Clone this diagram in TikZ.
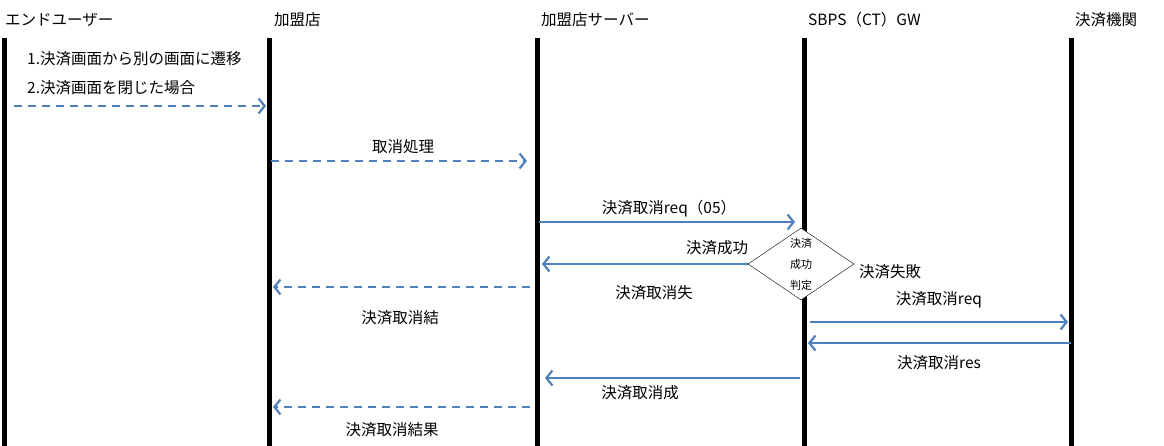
\documentclass[tikz,border=0pt]{standalone}
\usepackage{fontspec}
\setmainfont{Noto Sans CJK JP}
\usetikzlibrary{arrows.meta,shapes.geometric}
\definecolor{msgblue}{RGB}{79,129,189}

\begin{document}
\begin{tikzpicture}[x=1pt,y=-1pt,font=\fontsize{15.5}{18}\selectfont]
            \tikzstyle{lifeline}=[line width=5pt, draw=black]
            \tikzstyle{head}=[anchor=west, inner sep=0pt]
            \tikzstyle{note}=[anchor=west, inner sep=0pt]
            \tikzstyle{label}=[inner sep=0pt]
            \tikzstyle{call}=[line width=2.2pt, draw=msgblue, -{Straight Barb[length=6pt,width=15pt,line width=2.2pt]}]
            \tikzstyle{reply}=[call, dash pattern=on 8pt off 6pt]
            \tikzstyle{judge}=[diamond, aspect=1.47, minimum width=106pt, minimum height=72pt, inner sep=0pt, fill=white, draw=black, thin, align=center, font=\fontsize{11}{21}\selectfont]
            \useasboundingbox (0,0) rectangle (1164,446);

            % lifelines
            \node[head] (hU) at (5,20){エンドユーザー};
            \node[head] (hM) at (274,20){加盟店};
            \node[head] (hS) at (541,20){加盟店サーバー};
            \node[head] (hG) at (808,20){SBPS（CT）GW};
            \node[head] (hK) at (1075,20){決済機関};
            \coordinate (U0) at (4,38);   \coordinate (U9) at (4,446);
            \coordinate (M0) at (269,38); \coordinate (M9) at (269,446);
            \coordinate (S0) at (537,38); \coordinate (S9) at (537,446);
            \coordinate (G0) at (804,38); \coordinate (G9) at (804,446);
            \coordinate (K0) at (1071,38); \coordinate (K9) at (1071,446);
            \path[-] (U0) edge [lifeline] (U9);
            \path[-] (M0) edge [lifeline] (M9);
            \path[-] (S0) edge [lifeline] (S9);
            \path[-] (G0) edge [lifeline] (G9);
            \path[-] (K0) edge [lifeline] (K9);

            % messages
            \node[note] (n1) at (27,59){1.決済画面から別の画面に遷移};
            \node[note] (n2) at (27,88){2.決済画面を閉じた場合};
            \coordinate (a1s) at (14,106);  \coordinate (a1e) at (266,106);
            \coordinate (a2s) at (271,161); \coordinate (a2e) at (527,161);
            \coordinate (a3s) at (539,222); \coordinate (a3e) at (795,222);
            \coordinate (a4e) at (542,264);
            \coordinate (a5s) at (530,287); \coordinate (a5e) at (273,287);
            \coordinate (a6s) at (810,322); \coordinate (a6e) at (1068,322);
            \coordinate (a7s) at (1071,343); \coordinate (a7e) at (808,343);
            \coordinate (a8s) at (800,378); \coordinate (a8e) at (545,378);
            \coordinate (a9s) at (530,407); \coordinate (a9e) at (273,407);

            \node[judge] (J) at (801,264){決済\\成功\\判定};

            \path (a1s) edge [reply] (a1e);
            \path (a2s) edge [reply] (a2e);
            \path (a3s) edge [call] (a3e);
            \path (J.west) edge [call] (a4e);
            \path (a5s) edge [reply] (a5e);
            \path (a6s) edge [call] (a6e);
            \path (a7s) edge [call] (a7e);
            \path (a8s) edge [call] (a8e);
            \path (a9s) edge [reply] (a9e);

            \node[label] (l2) at (403,147){取消処理};
            \node[label] (l3) at (669,209){決済取消req（05）};
            \node[label] (l4) at (717,248){決済成功};
            \node[label] (l4b) at (654,293){決済取消失};
            \node[label] (lf) at (890,272){決済失敗};
            \node[label] (l5) at (400,318){決済取消結};
            \node[label] (l6) at (939,300){決済取消req};
            \node[label] (l7) at (939,363){決済取消res};
            \node[label] (l8) at (640,393){決済取消成};
            \node[label] (l9) at (392,430){決済取消結果};

        \end{tikzpicture}
\end{document}
